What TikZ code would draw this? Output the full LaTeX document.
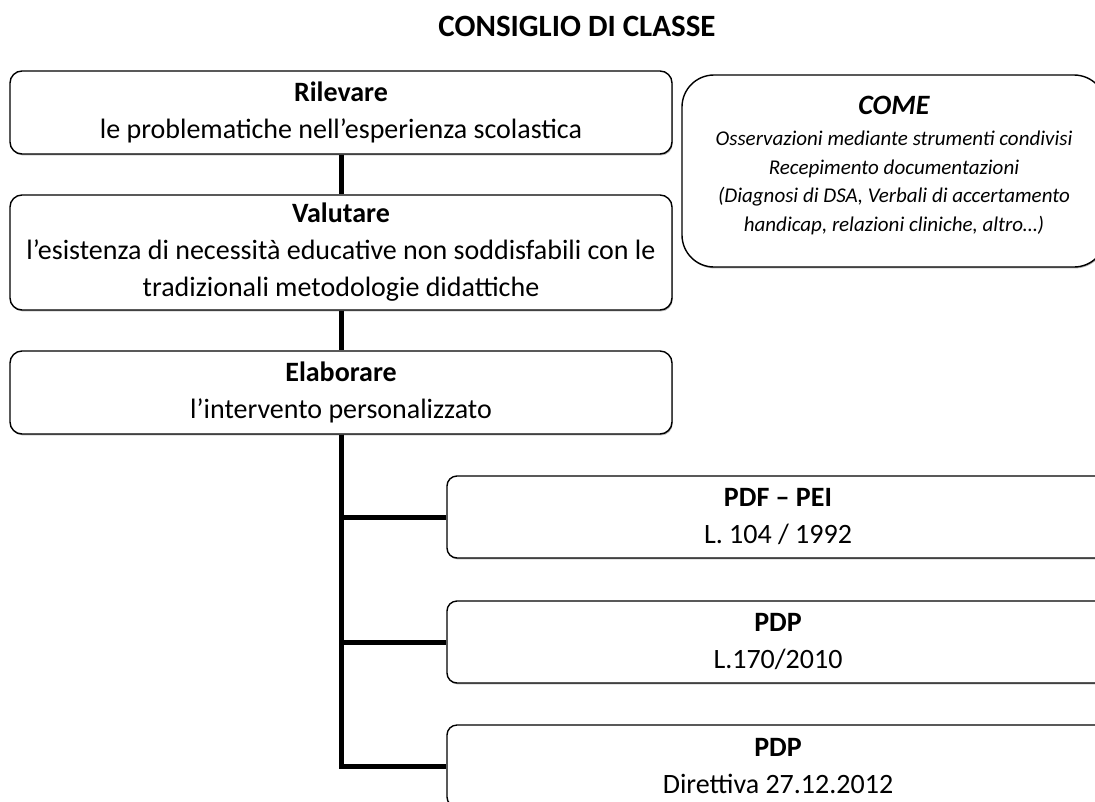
\documentclass[tikz,border=0pt]{standalone}
\usepackage{fontspec}
\setmainfont{Carlito}
\usepackage{tikz}
\usetikzlibrary{positioning,calc,shadows}

\begin{document}
\begin{tikzpicture}[x=1pt, y=-1pt, semithick,
 box/.style={draw, fill=white, line width=1.4pt, rounded corners=12pt, inner sep=0pt,
  align=center, font=\fontsize{28}{37}\selectfont,
  drop shadow={shadow xshift=0.8pt, shadow yshift=-1.4pt, fill=black!30, opacity=1}},
 step box/.style={box, minimum width=662},
 law box/.style={box, rounded corners=10pt, minimum width=662, minimum height=82},
 link/.style={line width=5pt}]
 \useasboundingbox (0,0) rectangle (1095,801);
 \clip (0,0) rectangle (1095,801);
 \node[font=\fontsize{31}{37}\selectfont\bfseries] (title) at (577,26) {CONSIGLIO DI CLASSE};
 \node[step box, minimum height=83] (ril) at (341,112.5) {\textbf{Rilevare}\\ le problematiche nell’esperienza scolastica};
 \node[step box, minimum height=115] (val) at (341,252.5) {\textbf{Valutare}\\ l’esistenza di necessità educative non soddisfabili con le\\ tradizionali metodologie didattiche};
 \node[step box, minimum height=83] (ela) at (341,392.5) {\textbf{Elaborare}\\ l’intervento personalizzato};
 \node[box, rounded corners=32pt, minimum width=424, minimum height=192,
  font=\fontsize{21}{28.5}\selectfont\itshape] (come) at (894,171)
  {{\fontsize{28}{32}\selectfont\bfseries COME}\\[3pt] Osservazioni mediante strumenti condivisi\\ Recepimento documentazioni\\ (Diagnosi di DSA, Verbali di accertamento\\ handicap, relazioni cliniche, altro…)\\[-14pt]};
 \node[law box] (pei) at (778,517) {\textbf{PDF – PEI}\\ L. 104 / 1992};
 \node[law box] (pdp) at (778,642) {\textbf{PDP}\\ L.170/2010};
 \node[law box] (dir) at (778,766) {\textbf{PDP}\\ Direttiva 27.12.2012};
 % \draw (ril) -- (come);
 \draw[link] (ril.south) -- (val.north);
 \draw[link] (val.south) -- (ela.north);
 \draw[link] (ela.south) |- (pei.west);
 \draw[link] (ela.south) |- (pdp.west);
 \draw[link] (ela.south) |- (dir.west);
\end{tikzpicture}
\end{document}
